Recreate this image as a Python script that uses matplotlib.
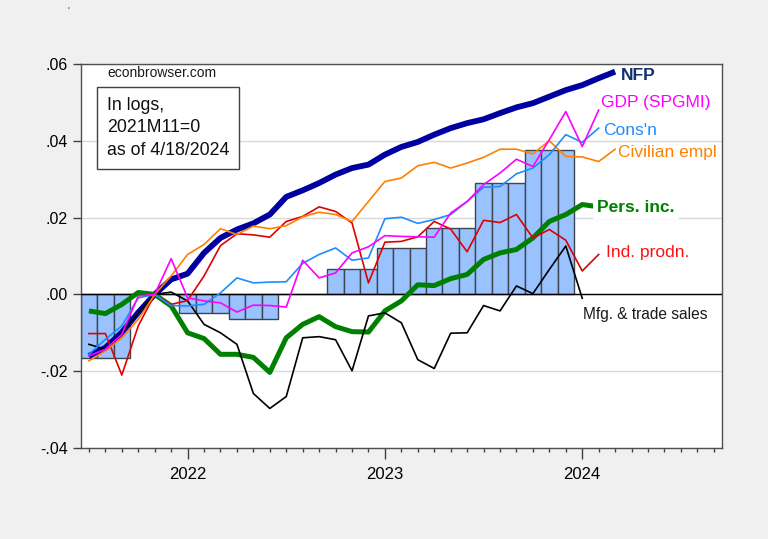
import numpy as np
import pandas as pd
import matplotlib
matplotlib.use('Agg')
import matplotlib.pyplot as plt
from matplotlib.patches import Rectangle
from matplotlib.ticker import FixedLocator, FuncFormatter

plt.rcParams['font.family'] = ['Liberation Sans', 'DejaVu Sans']

# monthly axis, 2021M07 .. 2024M09
months = pd.period_range('2021-07', '2024-09', freq='M')

# log levels, 2021M11 = 0
nfp = [-0.0160, -0.0139, -0.0099, -0.0047, 0.0, 0.0039, 0.0054, 0.0108, 0.0147, 0.0169,
       0.0185, 0.0208, 0.0254, 0.0271, 0.0290, 0.0312, 0.0329, 0.0338, 0.0364, 0.0384,
       0.0397, 0.0416, 0.0433, 0.0446, 0.0456, 0.0472, 0.0487, 0.0498, 0.0515, 0.0532,
       0.0545, 0.0563, 0.0580]
civ_empl = [-0.0173, -0.0147, -0.0113, -0.0065, 0.0, 0.0048, 0.0104, 0.0130, 0.0171, 0.0156,
            0.0178, 0.0171, 0.0179, 0.0202, 0.0214, 0.0208, 0.0190, 0.0242, 0.0294, 0.0303,
            0.0335, 0.0344, 0.0329, 0.0342, 0.0357, 0.0378, 0.0378, 0.0366, 0.0400, 0.0359,
            0.0358, 0.0346, 0.0378]
consn = [-0.0156, -0.0117, -0.0082, -0.0009, 0.0, -0.0029, -0.0030, -0.0026, 0.0004, 0.0043,
         0.0030, 0.0032, 0.0033, 0.0081, 0.0104, 0.0121, 0.0089, 0.0095, 0.0197, 0.0201,
         0.0185, 0.0195, 0.0208, 0.0242, 0.0279, 0.0281, 0.0314, 0.0329, 0.0364, 0.0416,
         0.0396, 0.0433]
gdp_spgmi = [-0.0160, -0.0143, -0.0104, -0.0004, 0.0, 0.0093, -0.0009, -0.0017, -0.0022, -0.0046,
             -0.0028, -0.0029, -0.0033, 0.0089, 0.0043, 0.0056, 0.0108, 0.0124, 0.0153, 0.0151,
             0.0150, 0.0149, 0.0212, 0.0242, 0.0286, 0.0316, 0.0352, 0.0333, 0.0403, 0.0476,
             0.0385, 0.0480]
ind_prod = [-0.0102, -0.0102, -0.0210, -0.0082, 0.0, -0.0026, -0.0016, 0.0048, 0.0127, 0.0158,
            0.0155, 0.0149, 0.0190, 0.0203, 0.0228, 0.0216, 0.0186, 0.0030, 0.0136, 0.0138,
            0.0150, 0.0190, 0.0170, 0.0111, 0.0193, 0.0187, 0.0208, 0.0147, 0.0169, 0.0141,
            0.0061, 0.0104]
pers_inc = [-0.0043, -0.0050, -0.0026, 0.0005, 0.0, -0.0030, -0.0100, -0.0115, -0.0156, -0.0156,
            -0.0164, -0.0203, -0.0113, -0.0078, -0.0058, -0.0084, -0.0097, -0.0098, -0.0043, -0.0017,
            0.0025, 0.0023, 0.0041, 0.0052, 0.0091, 0.0108, 0.0117, 0.0147, 0.0190, 0.0208,
            0.0234, 0.0228]
mfg_sales = [-0.0130, -0.0143, -0.0100, -0.0048, 0.0, 0.0006, -0.0017, -0.0078, -0.0100, -0.0130,
             -0.0258, -0.0297, -0.0266, -0.0113, -0.0110, -0.0118, -0.0199, -0.0056, -0.0048, -0.0074,
             -0.0170, -0.0193, -0.0101, -0.0100, -0.0029, -0.0043, 0.0022, 0.0002, 0.0065, 0.0126,
             -0.0010]
# quarterly GDP, 2021Q3 .. 2023Q4, shown as bars over each month of the quarter
gdp_q = [-0.0165, 0.0, -0.0049, -0.0063, 0.0, 0.0065, 0.0121, 0.0174, 0.0290, 0.0375]

x = np.arange(len(months))


def pad(vals):
    out = np.full(len(months), np.nan)
    out[:len(vals)] = vals
    return out


fig = plt.figure(figsize=(7.68, 5.39), dpi=100, facecolor='#f0f0f0')
ax = fig.add_axes([0.1051, 0.1688, 0.8350, 0.7125])

ax.set_axisbelow(True)
ax.yaxis.grid(True, color='#d9d9d9', lw=1)

gdp_m = np.repeat(gdp_q, 3)
ax.bar(x[:len(gdp_m)], gdp_m, width=1.0, color='#99c2ff', edgecolor='#3c4650',
       linewidth=1, zorder=2)
ax.axhline(0, color='black', lw=1, zorder=3)

ax.plot(x, pad(nfp), color='#0000a0', lw=4.2, zorder=4, solid_capstyle='butt')
ax.plot(x, pad(pers_inc), color='#008000', lw=3.6, zorder=4, solid_capstyle='butt')
ax.plot(x, pad(mfg_sales), color='black', lw=1.2, zorder=5)
ax.plot(x, pad(ind_prod), color='#e00000', lw=1.2, zorder=5)
ax.plot(x, pad(civ_empl), color='#ff8000', lw=1.2, zorder=5)
ax.plot(x, pad(consn), color='#1e8cff', lw=1.2, zorder=5)
ax.plot(x, pad(gdp_spgmi), color='#ff00ff', lw=1.2, zorder=5)

# series labels
lab = dict(fontsize=12.5, va='center', ha='left', zorder=6)
ax.text(32.35, 0.0571, 'NFP', color='#0f2f6f', fontweight='bold', **lab)
ax.text(31.15, 0.0499, 'GDP (SPGMI)', color='#ff00ff', **lab)
ax.text(31.30, 0.0426, "Cons'n", color='#1e8cff', **lab)
ax.text(32.20, 0.0370, 'Civilian empl', color='#ff8000', **lab)
ax.text(30.90, 0.0227, 'Pers. inc.', color='#008000', fontweight='bold',
        bbox=dict(facecolor='white', edgecolor='none', pad=3), **lab)
ax.text(31.45, 0.0110, 'Ind. prodn.', color='#ff1010', **lab)
ax.text(30.05, -0.0052, 'Mfg. & trade sales', color='#1a1a1a', fontsize=11.2,
        va='center', ha='left', zorder=6)

ax.text(0.041, 0.976, 'econbrowser.com', transform=ax.transAxes, fontsize=10,
        va='center', ha='left', color='#1a1a1a')
ax.add_patch(Rectangle((0.025, 0.7266), 0.2218, 0.2144, transform=ax.transAxes,
                       facecolor='white', edgecolor='#404040', lw=1, zorder=6))
ax.text(0.041, 0.8333, 'In logs,\n2021M11=0\nas of 4/18/2024', transform=ax.transAxes,
        fontsize=12.8, va='center', ha='left', linespacing=1.42, color='#111111', zorder=7)

fig.text(0.088, 0.972, "'", fontsize=7, color='#333333')

ax.set_xlim(-0.5, len(months) - 0.5)
ax.set_ylim(-0.04, 0.06)

year_pos = [i for i, p in enumerate(months) if p.month == 1]
ax.xaxis.set_major_locator(FixedLocator(year_pos))
ax.set_xticklabels([str(months[i].year) for i in year_pos])
ax.xaxis.set_minor_locator(FixedLocator(x))
ax.set_yticks([-0.04, -0.02, 0.0, 0.02, 0.04, 0.06])
ax.yaxis.set_major_formatter(FuncFormatter(lambda v, p: f'{v:.2f}'.replace('0.', '.')))

ax.tick_params(axis='x', which='major', length=8, width=1, labelsize=12, direction='out',
               color='#404040', pad=6)
ax.tick_params(axis='x', which='minor', length=3, width=1, direction='out', color='#404040')
ax.tick_params(axis='y', length=6, width=1, labelsize=11.5, direction='out', color='#404040')
ax.tick_params(top=False, right=False)
for s in ax.spines.values():
    s.set_color('#505050')
    s.set_linewidth(1)

fig.savefig('out.png', dpi=100, facecolor=fig.get_facecolor())
